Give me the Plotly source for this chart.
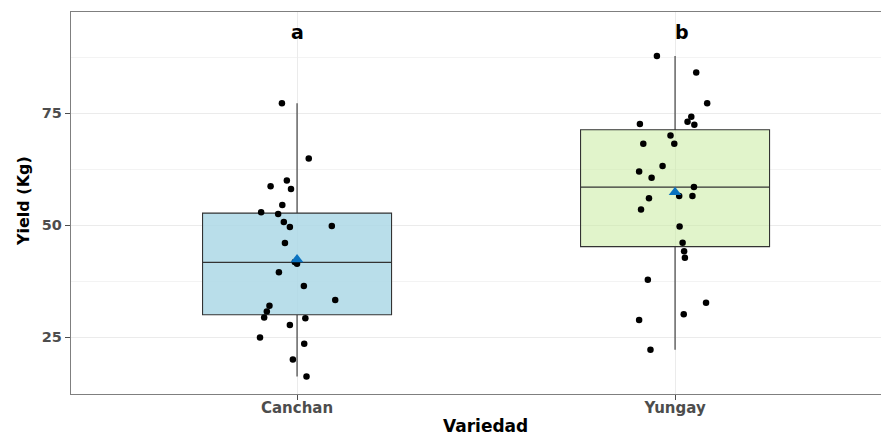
import plotly.graph_objects as go

# ---- data ----
categories = ["Canchan", "Yungay"]
cat_pos = [1, 2]

canchan_yield = [77.2, 64.9, 60.0, 58.7, 58.1, 54.5, 52.9, 52.5, 50.7, 49.6, 49.8, 46.0, 41.8,
                 41.4, 39.5, 36.4, 33.3, 32.0, 30.7, 29.4, 29.2, 27.7, 24.9, 23.5, 20.0, 16.2]
canchan_jitter = [-0.040, 0.031, -0.027, -0.070, -0.016, -0.039, -0.095, -0.050, -0.035, -0.019,
                  0.092, -0.032, -0.006, 0.000, -0.048, 0.018, 0.101, -0.073, -0.080, -0.087,
                  0.022, -0.019, -0.098, 0.019, -0.011, 0.025]

yungay_yield = [87.8, 84.1, 77.2, 74.2, 73.1, 72.4, 72.6, 70.0, 68.2, 68.2, 63.2, 62.0, 60.6, 58.5,
                56.5, 56.5, 56.0, 53.5, 49.7, 46.1, 44.2, 42.7, 37.8, 32.7, 30.1, 28.8, 22.2]
yungay_jitter = [-0.048, 0.056, 0.085, 0.043, 0.033, 0.051, -0.093, -0.012, -0.084, -0.002,
                 -0.033, -0.095, -0.062, 0.050, 0.011, 0.046, -0.069, -0.090, 0.012, 0.020,
                 0.024, 0.026, -0.072, 0.082, 0.023, -0.095, -0.065]

box_q1 = [30.0, 45.2]
box_median = [41.7, 58.5]
box_q3 = [52.7, 71.3]
box_low = [16.2, 22.2]
box_high = [77.2, 87.8]

group_letters = ["a", "b"]
y_ticks = [25, 50, 75]
x_title = "Variedad"
y_title = "Yield (Kg)"

# ---- styling ----
box_fill = ["rgba(173,216,230,0.85)", "rgba(200,235,160,0.55)"]
font_family = "DejaVu Sans, Verdana, sans-serif"

fig = go.Figure()

for i, cat in enumerate(categories):
    fig.add_trace(go.Box(
        x=[cat_pos[i]], q1=[box_q1[i]], median=[box_median[i]], q3=[box_q3[i]],
        lowerfence=[box_low[i]], upperfence=[box_high[i]],
        width=0.5, whiskerwidth=0, fillcolor=box_fill[i],
        line=dict(color="#333333", width=1.1), boxpoints=False,
        hoverinfo="skip", showlegend=False,
    ))

series = [(canchan_yield, canchan_jitter), (yungay_yield, yungay_jitter)]
for i, (vals, jit) in enumerate(series):
    fig.add_trace(go.Scatter(
        x=[cat_pos[i] + j for j in jit], y=vals, mode="markers",
        marker=dict(color="black", size=6.5), showlegend=False,
    ))

means = [sum(v) / len(v) for v, _ in series]
fig.add_trace(go.Scatter(
    x=cat_pos, y=means, mode="markers",
    marker=dict(symbol="triangle-up", color="#0a72c0", size=11), showlegend=False,
))

for i, lab in enumerate(group_letters):
    fig.add_annotation(
        x=cat_pos[i] + (0.018 if i == 1 else 0.0), y=93.2, text="<b>%s</b>" % lab,
        showarrow=False, xanchor="center", yanchor="middle",
        font=dict(family=font_family, size=19, color="black"),
    )

# axis titles
fig.add_annotation(
    xref="paper", yref="paper", x=0.507, y=0, yshift=-32,
    text="<b>%s</b>" % x_title, showarrow=False, xanchor="center", yanchor="middle",
    font=dict(family=font_family, size=17, color="black"),
)
fig.add_annotation(
    xref="paper", yref="paper", x=0, xshift=-48, y=0.505,
    text="<b>%s</b>" % y_title, showarrow=False, xanchor="center", yanchor="middle",
    textangle=-90, font=dict(family=font_family, size=16, color="black"),
)

# page body has an 8px margin, so the figure is sized/offset to fill 889x435 window
fig.update_layout(
    width=881, height=427,
    margin=dict(l=63, r=0, t=4, b=41, autoexpand=False),
    paper_bgcolor="white", plot_bgcolor="white",
    font=dict(family=font_family),
)

fig.update_xaxes(
    range=[0.402, 2.566], tickvals=cat_pos, ticktext=["<b>%s</b>" % c for c in categories],
    tickfont=dict(size=15, color="#4d4d4d"),
    showgrid=True, gridcolor="#ebebeb", gridwidth=1,
    ticks="outside", ticklen=5, tickcolor="#4d4d4d", tickwidth=1,
    showline=True, linecolor="#7f7f7f", linewidth=1.3, mirror=True,
    zeroline=False, automargin=False, ticklabelstandoff=-5,
)

fig.update_yaxes(
    range=[12.3, 97.6], tickvals=y_ticks,
    ticktext=["<b>%d</b>" % t for t in y_ticks],
    tickfont=dict(size=14.5, color="#4d4d4d"),
    showgrid=True, gridcolor="#ebebeb", gridwidth=1,
    minor=dict(dtick=12.5, tick0=0, showgrid=True, gridcolor="#f3f3f3", gridwidth=1, ticks=""),
    ticks="outside", ticklen=5, tickcolor="#4d4d4d", tickwidth=1,
    showline=True, linecolor="#7f7f7f", linewidth=1.3, mirror=False,
    zeroline=False, automargin=False,
)

fig.write_html("out.html")
